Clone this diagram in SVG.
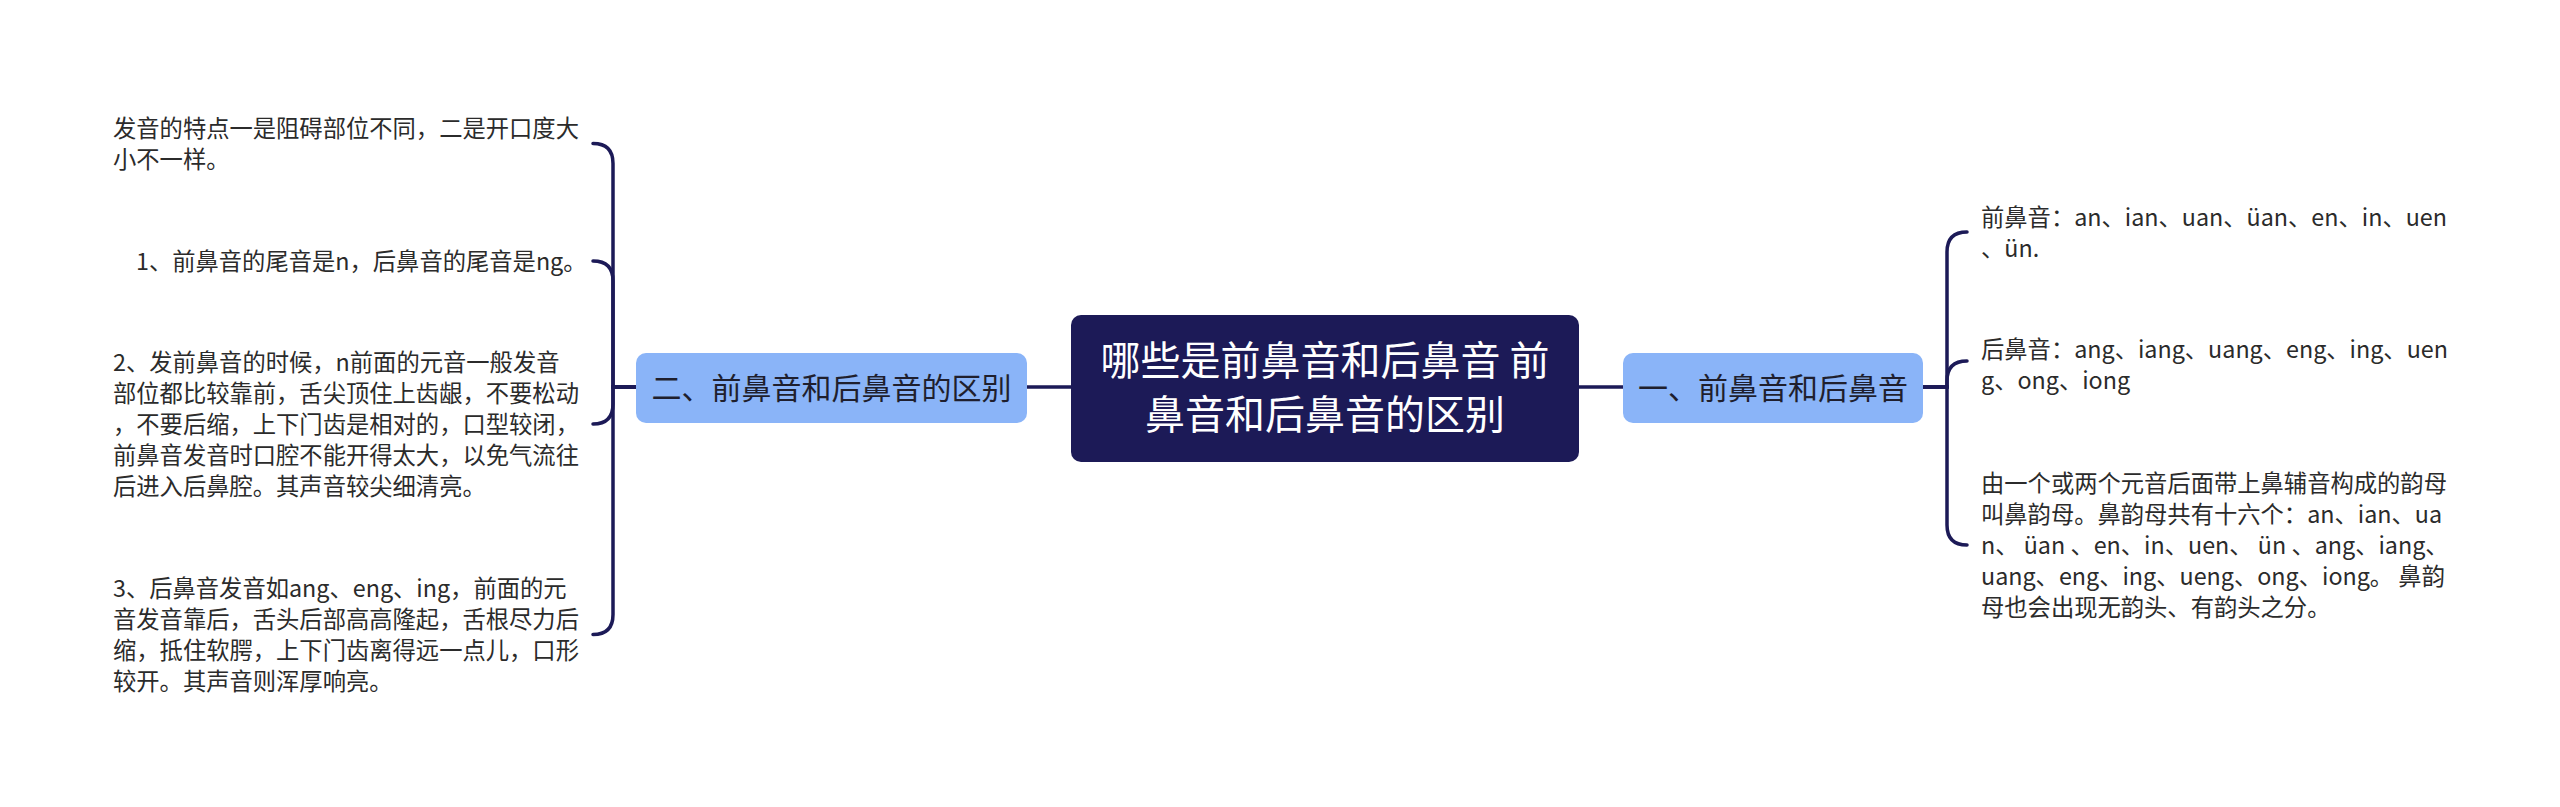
<svg xmlns="http://www.w3.org/2000/svg" width="2560" height="807" viewBox="0 0 2560 807">
<style>
.t{font-family:"Noto Sans CJK SC","Noto Sans",sans-serif;}
.leaf{font-size:23.3px;fill:#2b2b2b;}
.sub{font-size:30px;fill:#1f1f2e;}
.root{font-size:40px;fill:#ffffff;}
.conn{fill:none;stroke:#1c1a57;stroke-width:3.5;stroke-linecap:round;}
.subbox{fill:#8ab4f8;}
.rootbox{fill:#1c1a57;}
</style>
<rect width="2560" height="807" fill="#ffffff"/>
<g id="connectors">
<path class="conn" d="M1071 387H1027"/>
<path class="conn" d="M1579 387H1623"/>
<path class="conn" d="M636 387H613V163.5Q613 143.5 593 143.5"/>
<path class="conn" d="M636 387H613V281Q613 261 593 261"/>
<path class="conn" d="M636 387H613V404Q613 424 593 424"/>
<path class="conn" d="M636 387H613V614.5Q613 634.5 593 634.5"/>
<path class="conn" d="M1923 387H1947V252Q1947 232 1967 232"/>
<path class="conn" d="M1923 387H1947V381Q1947 361 1967 361"/>
<path class="conn" d="M1923 387H1947V525Q1947 545 1967 545"/>
</g>
<g id="root">
<rect class="rootbox" x="1071" y="315" width="508" height="147" rx="10"/>
<text class="t root" text-anchor="middle"><tspan x="1325" y="375">哪些是前鼻音和后鼻音 前</tspan><tspan x="1325" y="429">鼻音和后鼻音的区别</tspan></text>
</g>
<g id="left-main">
<rect class="subbox" x="636" y="353" width="391" height="70" rx="10"/>
<text class="t sub" x="831.5" y="399" text-anchor="middle">二、前鼻音和后鼻音的区别</text>
</g>
<g id="right-main">
<rect class="subbox" x="1623" y="353" width="300" height="70" rx="10"/>
<text class="t sub" x="1773" y="399" text-anchor="middle">一、前鼻音和后鼻音</text>
</g>
<g id="left-1">
<text class="t leaf"><tspan x="113" y="137">发音的特点一是阻碍部位不同，二是开口度大</tspan><tspan x="113" y="168">小不一样。</tspan></text>
</g>
<g id="left-2">
<text class="t leaf" x="136" y="270">1、前鼻音的尾音是n，后鼻音的尾音是ng。</text>
</g>
<g id="left-3">
<text class="t leaf"><tspan x="113" y="371">2、发前鼻音的时候，n前面的元音一般发音</tspan><tspan x="113" y="402">部位都比较靠前，舌尖顶住上齿龈，不要松动</tspan><tspan x="113" y="433">，不要后缩，上下门齿是相对的，口型较闭，</tspan><tspan x="113" y="464">前鼻音发音时口腔不能开得太大，以免气流往</tspan><tspan x="113" y="495">后进入后鼻腔。其声音较尖细清亮。</tspan></text>
</g>
<g id="left-4">
<text class="t leaf"><tspan x="113" y="597">3、后鼻音发音如ang、eng、ing，前面的元</tspan><tspan x="113" y="628">音发音靠后，舌头后部高高隆起，舌根尽力后</tspan><tspan x="113" y="659">缩，抵住软腭，上下门齿离得远一点儿，口形</tspan><tspan x="113" y="690">较开。其声音则浑厚响亮。</tspan></text>
</g>
<g id="right-1">
<text class="t leaf"><tspan x="1981" y="226">前鼻音：an、ian、uan、üan、en、in、uen</tspan><tspan x="1981" y="257">、ün.</tspan></text>
</g>
<g id="right-2">
<text class="t leaf"><tspan x="1981" y="358">后鼻音：ang、iang、uang、eng、ing、uen</tspan><tspan x="1981" y="389">g、ong、iong</tspan></text>
</g>
<g id="right-3">
<text class="t leaf"><tspan x="1981" y="492">由一个或两个元音后面带上鼻辅音构成的韵母</tspan><tspan x="1981" y="523">叫鼻韵母。鼻韵母共有十六个：an、ian、ua</tspan><tspan x="1981" y="554">n、 üan 、en、in、uen、 ün 、ang、iang、</tspan><tspan x="1981" y="585">uang、eng、ing、ueng、ong、iong。 鼻韵</tspan><tspan x="1981" y="616">母也会出现无韵头、有韵头之分。</tspan></text>
</g>
</svg>
